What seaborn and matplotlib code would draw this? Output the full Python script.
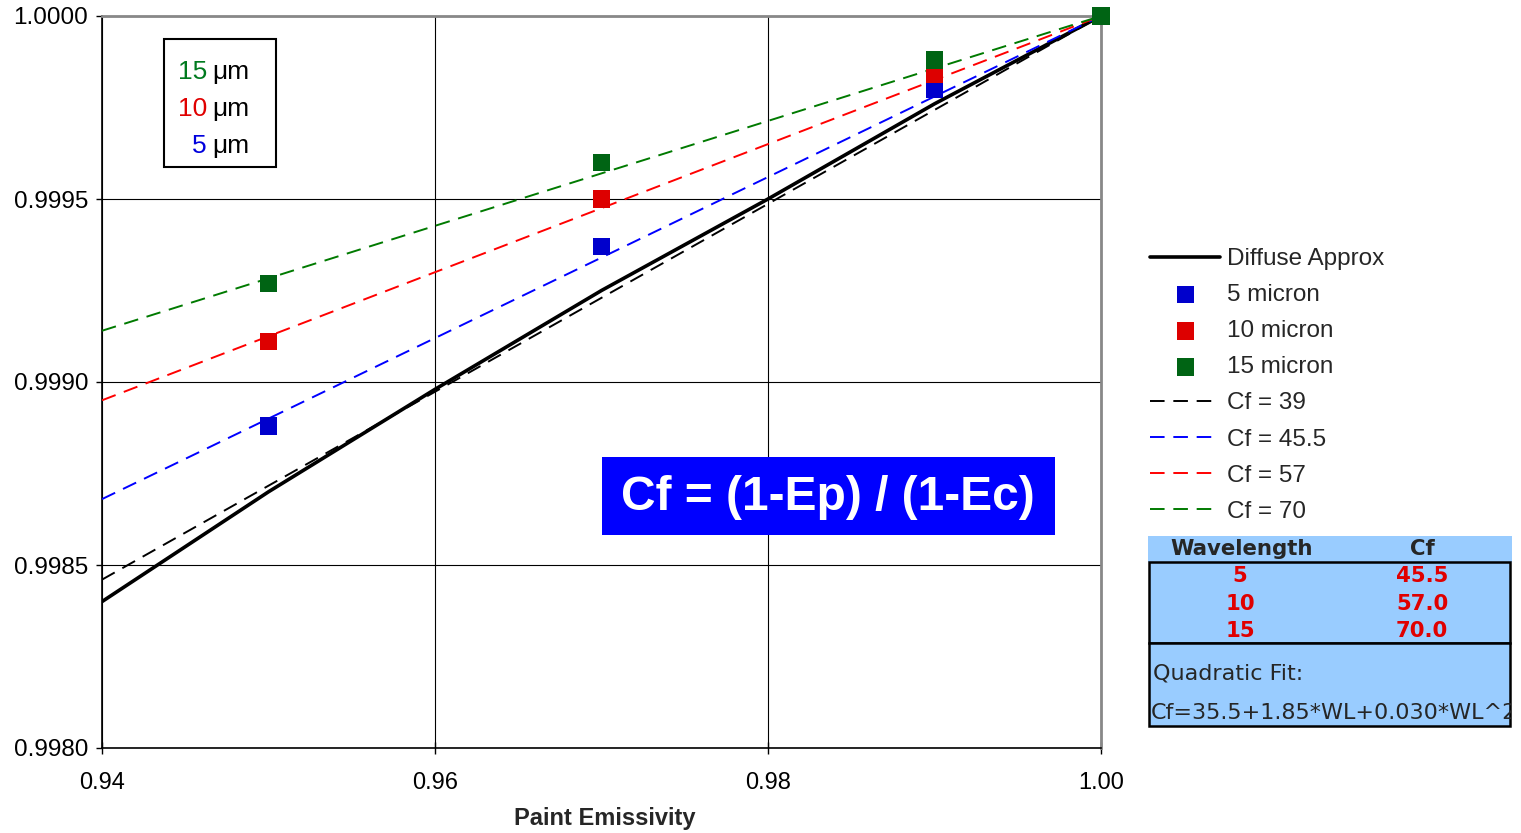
import matplotlib
matplotlib.use("Agg")
import matplotlib.pyplot as plt
from matplotlib.patches import Rectangle
from matplotlib.transforms import Bbox
import seaborn as sns

# ---------------- data ----------------
diffuse_x = [0.94, 0.95, 0.96, 0.97, 0.98, 0.99, 1.00]
diffuse_y = [0.99840, 0.99870, 0.99898, 0.99925, 0.99950, 0.99976, 1.0000]

marker_x = [0.95, 0.97, 0.99, 1.00]
micron5_y = [0.99888, 0.99937, 0.99980, 1.0000]
micron10_y = [0.99911, 0.99950, 0.99984, 1.0000]
micron15_y = [0.99927, 0.99960, 0.99988, 1.0000]

fit_x = [0.94, 1.00]
cf39_y = [0.99846, 1.0000]
cf45_y = [0.99868, 1.0000]
cf57_y = [0.99895, 1.0000]
cf70_y = [0.99914, 1.0000]

x_ticks = [0.94, 0.96, 0.98, 1.00]
y_ticks = [0.9980, 0.9985, 0.9990, 0.9995, 1.0000]

table_wavelength = ["5", "10", "15"]
table_cf = ["45.5", "57.0", "70.0"]

# ---------------- figure ----------------
W, H = 1521, 833
sns.set_style("white")
plt.rcParams['font.family'] = ['Liberation Sans', 'DejaVu Sans']

fig = plt.figure(figsize=(W / 100, H / 100), dpi=100)


def fx(px):
    return px / W


def fy(py):
    return 1 - py / H


ax = fig.add_axes([fx(102), fy(748), fx(1101) - fx(102), fy(16) - fy(748)])

sns.lineplot(x=diffuse_x, y=diffuse_y, ax=ax, color="black", lw=2.6,
             label="Diffuse Approx", zorder=2)

blue_m, red_m, green_m = "#0000CC", "#DD0000", "#006414"
for yv, col, lab in [(micron5_y, blue_m, "5 micron"),
                     (micron10_y, red_m, "10 micron"),
                     (micron15_y, green_m, "15 micron")]:
    sns.scatterplot(x=marker_x, y=yv, ax=ax, marker="s", s=155, color=col,
                    edgecolor="none", linewidth=0, label=lab, zorder=4, clip_on=False)

dash = (0, (7.5, 4.5))
for yv, col, lab in [(cf39_y, "black", "Cf = 39"),
                     (cf45_y, "#0000FF", "Cf = 45.5"),
                     (cf57_y, "#FF0000", "Cf = 57"),
                     (cf70_y, "#007A00", "Cf = 70")]:
    sns.lineplot(x=fit_x, y=yv, ax=ax, color=col, lw=1.4, linestyle=dash,
                 label=lab, zorder=3)

ax.set_xlim(0.94, 1.00)
ax.set_ylim(0.9980, 1.0000)
ax.set_xticks(x_ticks)
ax.set_yticks(y_ticks)
ax.set_xticklabels([f"{v:.2f}" for v in x_ticks])
ax.set_yticklabels([f"{v:.4f}" for v in y_ticks])
ax.tick_params(axis="y", direction="out", length=4, width=1, pad=6,
               labelsize=17.5, colors="black", left=True)
ax.tick_params(axis="x", direction="inout", length=9, width=1, pad=13,
               labelsize=17, colors="black", bottom=True)
ax.grid(True, color="black", lw=0.8)
ax.set_axisbelow(True)
for s in ["left", "bottom"]:
    ax.spines[s].set_color("black")
    ax.spines[s].set_linewidth(1.2)
for s in ["top", "right"]:
    ax.spines[s].set_color("#888888")
    ax.spines[s].set_linewidth(2)
ax.set_xlabel("")
ax.set_ylabel("")
fig.text(fx(605), fy(819), "Paint Emissivity", ha="center", va="center",
         fontsize=17, fontweight="bold")

# legend outside
handles, labels = ax.get_legend_handles_labels()
if ax.get_legend():
    ax.get_legend().remove()
leg = fig.legend(handles, labels, loc="upper left",
                 bbox_to_anchor=(fx(1150), fy(248)), bbox_transform=fig.transFigure,
                 frameon=False, fontsize=17.5, handlelength=2.9, handletextpad=0.25,
                 labelspacing=0.58, borderpad=0, borderaxespad=0)
clip = Bbox.from_extents(0, 0, 1386, H)
for t in leg.get_texts():
    t.set_clip_box(clip)
    t.set_clip_on(True)

# inset box (wavelength key)
fig.patches.append(Rectangle((fx(164), fy(167)), fx(276) - fx(164), fy(39) - fy(167),
                             transform=fig.transFigure, facecolor="white",
                             edgecolor="black", lw=1.5, zorder=5))
for num, col, py in [("15", "#007A1E", 72), ("10", "#E00000", 109), ("5", "#0000DD", 146)]:
    fig.text(fx(207), fy(py), num, color=col, fontsize=19, ha="right", va="center", zorder=6)
    fig.text(fx(212), fy(py), "\u03bcm", color="black", fontsize=19, ha="left",
             va="center", zorder=6)

# formula box
fig.patches.append(Rectangle((fx(602), fy(535)), fx(1055) - fx(602), fy(457) - fy(535),
                             transform=fig.transFigure, facecolor="#0000FF",
                             edgecolor="none", zorder=5))
fig.text(fx(828), fy(497), "Cf = (1-Ep) / (1-Ec)", color="white", fontsize=34.5,
         fontweight="bold", ha="center", va="center", zorder=6)

# table
tb = "#99CCFF"
fig.patches.append(Rectangle((fx(1148), fy(562)), fx(1512) - fx(1148), fy(536) - fy(562),
                             transform=fig.transFigure, facecolor=tb, edgecolor="none", zorder=5))
fig.patches.append(Rectangle((fx(1149), fy(643)), fx(1510) - fx(1149), fy(562) - fy(643),
                             transform=fig.transFigure, facecolor=tb, edgecolor="black",
                             lw=1.8, zorder=5))
fig.patches.append(Rectangle((fx(1149), fy(726)), fx(1510) - fx(1149), fy(643) - fy(726),
                             transform=fig.transFigure, facecolor=tb, edgecolor="black",
                             lw=1.8, zorder=5))
tfont = ["DejaVu Sans"]
fig.text(fx(1242), fy(549), "Wavelength", family=tfont, fontsize=15.3, fontweight="bold",
         ha="center", va="center", zorder=6)
fig.text(fx(1422), fy(549), "Cf", family=tfont, fontsize=15.3, fontweight="bold",
         ha="center", va="center", zorder=6)
for wl, cf, py in zip(table_wavelength, table_cf, [576, 604, 631]):
    fig.text(fx(1240), fy(py), wl, family=tfont, fontsize=15.3, fontweight="bold",
             color="#E00000", ha="center", va="center", zorder=6)
    fig.text(fx(1422), fy(py), cf, family=tfont, fontsize=15.3, fontweight="bold",
             color="#E00000", ha="center", va="center", zorder=6)
fig.text(fx(1153), fy(673), "Quadratic Fit:", family=tfont, fontsize=16,
         ha="left", va="center", zorder=6)
ft = fig.text(fx(1151), fy(713), "Cf=35.5+1.85*WL+0.030*WL^2", family=tfont, fontsize=16,
              ha="left", va="center", zorder=6)
ft.set_clip_box(Bbox.from_extents(0, 0, 1511, H))
ft.set_clip_on(True)

fig.savefig("out.png", dpi=100)
